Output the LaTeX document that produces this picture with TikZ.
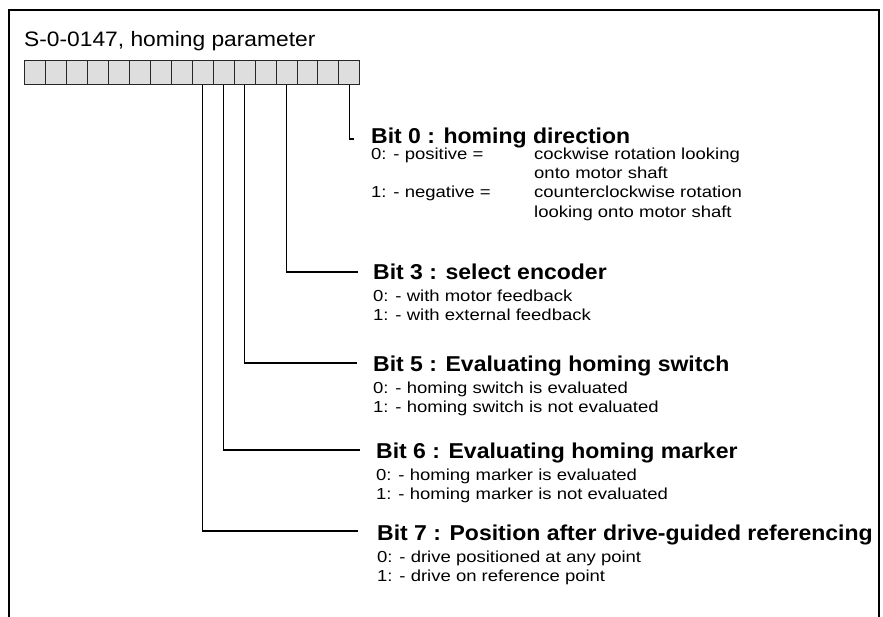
\documentclass[tikz,border=0pt]{standalone}
\usepackage{fontspec}
\setmainfont{Liberation Sans}
\newfontfamily\titlefont{Liberation Sans}[FakeStretch=1.09]
\newfontfamily\headfont{Liberation Sans}[FakeStretch=1.07]
\newfontfamily\bodyfont{Liberation Sans}[FakeStretch=1.16]

\tikzset{
  cell/.style={draw=black!85, fill=black!13, line width=0.8pt, inner sep=0pt,
    minimum width=20.94pt, minimum height=24pt, anchor=north west},
  ttl/.style={anchor=base west, inner sep=0pt, font=\titlefont\fontsize{20.9}{25}\selectfont},
  head/.style={anchor=base west, inner sep=0pt, font=\headfont\bfseries\fontsize{21.5}{26}\selectfont},
  body/.style={anchor=base west, inner sep=0pt, font=\bodyfont\fontsize{15.95}{19}\selectfont},
  link/.style={line width=1.1pt},
  frame/.style={line width=2pt}
}

\begin{document}
\begin{tikzpicture}[x=1pt, y=-1pt]
  \useasboundingbox (0,0) rectangle (883,617);

  % outer frame, open at the bottom
  \draw[frame] (9,617) -- (9,10) -- (879,10) -- (879,617);

  % parameter title
  \node[ttl] (title) at (24,46.5) {S-0-0147, homing parameter};

  % the 16 bits of the parameter word, bit 15 at the left
  \foreach \i in {0,...,15} {
    \pgfmathtruncatemacro\bitno{15-\i}
    \node[cell] (b\bitno) at ({24.3+\i*20.94},60) {};
  }

  % Bit 0
  \node[head] (h0) at (371,144) {Bit 0 : homing direction};
  \node[body] (h0a) at (371,159.5) {0: - positive =};
  \node[body] (h0b) at (534,159.5) {cockwise rotation looking};
  \node[body] (h0c) at (534,178.8) {onto motor shaft};
  \node[body] (h0d) at (371,198) {1: - negative =};
  \node[body] (h0e) at (534,198) {counterclockwise rotation};
  \node[body] (h0f) at (534,217.3) {looking onto motor shaft};
  \coordinate (e0) at (354,139);

  % Bit 3
  \node[head] (h3) at (373,280) {Bit 3 : select encoder};
  \node[body] (h3a) at (373,302) {0: - with motor feedback};
  \node[body] (h3b) at (373,321) {1: - with external feedback};
  \coordinate (e3) at (358,272);

  % Bit 5
  \node[head] (h5) at (373,371) {Bit 5 : Evaluating homing switch};
  \node[body] (h5a) at (373,393) {0: - homing switch is evaluated};
  \node[body] (h5b) at (373,412) {1: - homing switch is not evaluated};
  \coordinate (e5) at (357,363);

  % Bit 6
  \node[head] (h6) at (376,458) {Bit 6 : Evaluating homing marker};
  \node[body] (h6a) at (376,480) {0: - homing marker is evaluated};
  \node[body] (h6b) at (376,499) {1: - homing marker is not evaluated};
  \coordinate (e6) at (360,450);

  % Bit 7
  \node[head] (h7) at (377,540) {Bit 7 : Position after drive-guided referencing};
  \node[body] (h7a) at (377,562) {0: - drive positioned at any point};
  \node[body] (h7b) at (377,581) {1: - drive on reference point};
  \coordinate (e7) at (358,531);

  % leaders from the bits to their descriptions
  \draw[link] (b0.south) |- (e0);
  \draw[link] (b3.south) |- (e3);
  \draw[link] (b5.south) |- (e5);
  \draw[link] (b6.south) |- (e6);
  \draw[link] (b7.south) |- (e7);
\end{tikzpicture}
\end{document}
